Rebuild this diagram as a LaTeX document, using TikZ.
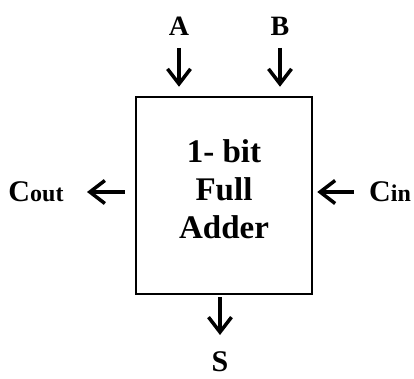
\documentclass[tikz,border=0pt]{standalone}
\usepackage{fontspec}
\setmainfont{Liberation Serif}
\usetikzlibrary{arrows.meta,positioning}
\tikzset{sig/.style={line width=3.5pt,-{Straight Barb[length=15pt,width=23pt]}}}

\begin{document}
\begin{tikzpicture}[x=1pt,y=-1pt,font=\bfseries]
\useasboundingbox (0,0) rectangle (414,379);
\node[draw,line width=2.5pt,minimum width=176pt,minimum height=197pt,align=center,text depth=13pt,font=\bfseries\fontsize{33}{38}\selectfont] (adder) at (224,195.5) {1- bit\\Full\\Adder};
\node[font=\bfseries\fontsize{28}{30}\selectfont] (a) at (179,26) {A};
\node[font=\bfseries\fontsize{28}{30}\selectfont] (b) at (280,26) {B};
\node[inner sep=1pt,font=\bfseries\fontsize{30}{34}\selectfont] (s) at (220,362) {S};
\node (cin) at (390,192) {\fontsize{30}{32}\selectfont C\fontsize{24}{26}\selectfont in};
\node (cout) at (36,192) {\fontsize{30}{32}\selectfont C\fontsize{24}{26}\selectfont out};
\draw[sig,shorten <=22pt,shorten >=9pt] (a.center) -- (a.center |- adder.north);
\draw[sig,shorten <=22pt,shorten >=9pt] (b.center) -- (b.center |- adder.north);
\draw[sig,shorten <=2pt,shorten >=27pt] (adder.south -| s.center) -- (s.center);
\draw[sig,shorten <=36pt,shorten >=4pt] (cin.center) -- (cin.center -| adder.east);
\draw[sig,shorten <=10pt,shorten >=51pt] (adder.west |- cout.center) -- (cout.center);
\end{tikzpicture}
\end{document}
